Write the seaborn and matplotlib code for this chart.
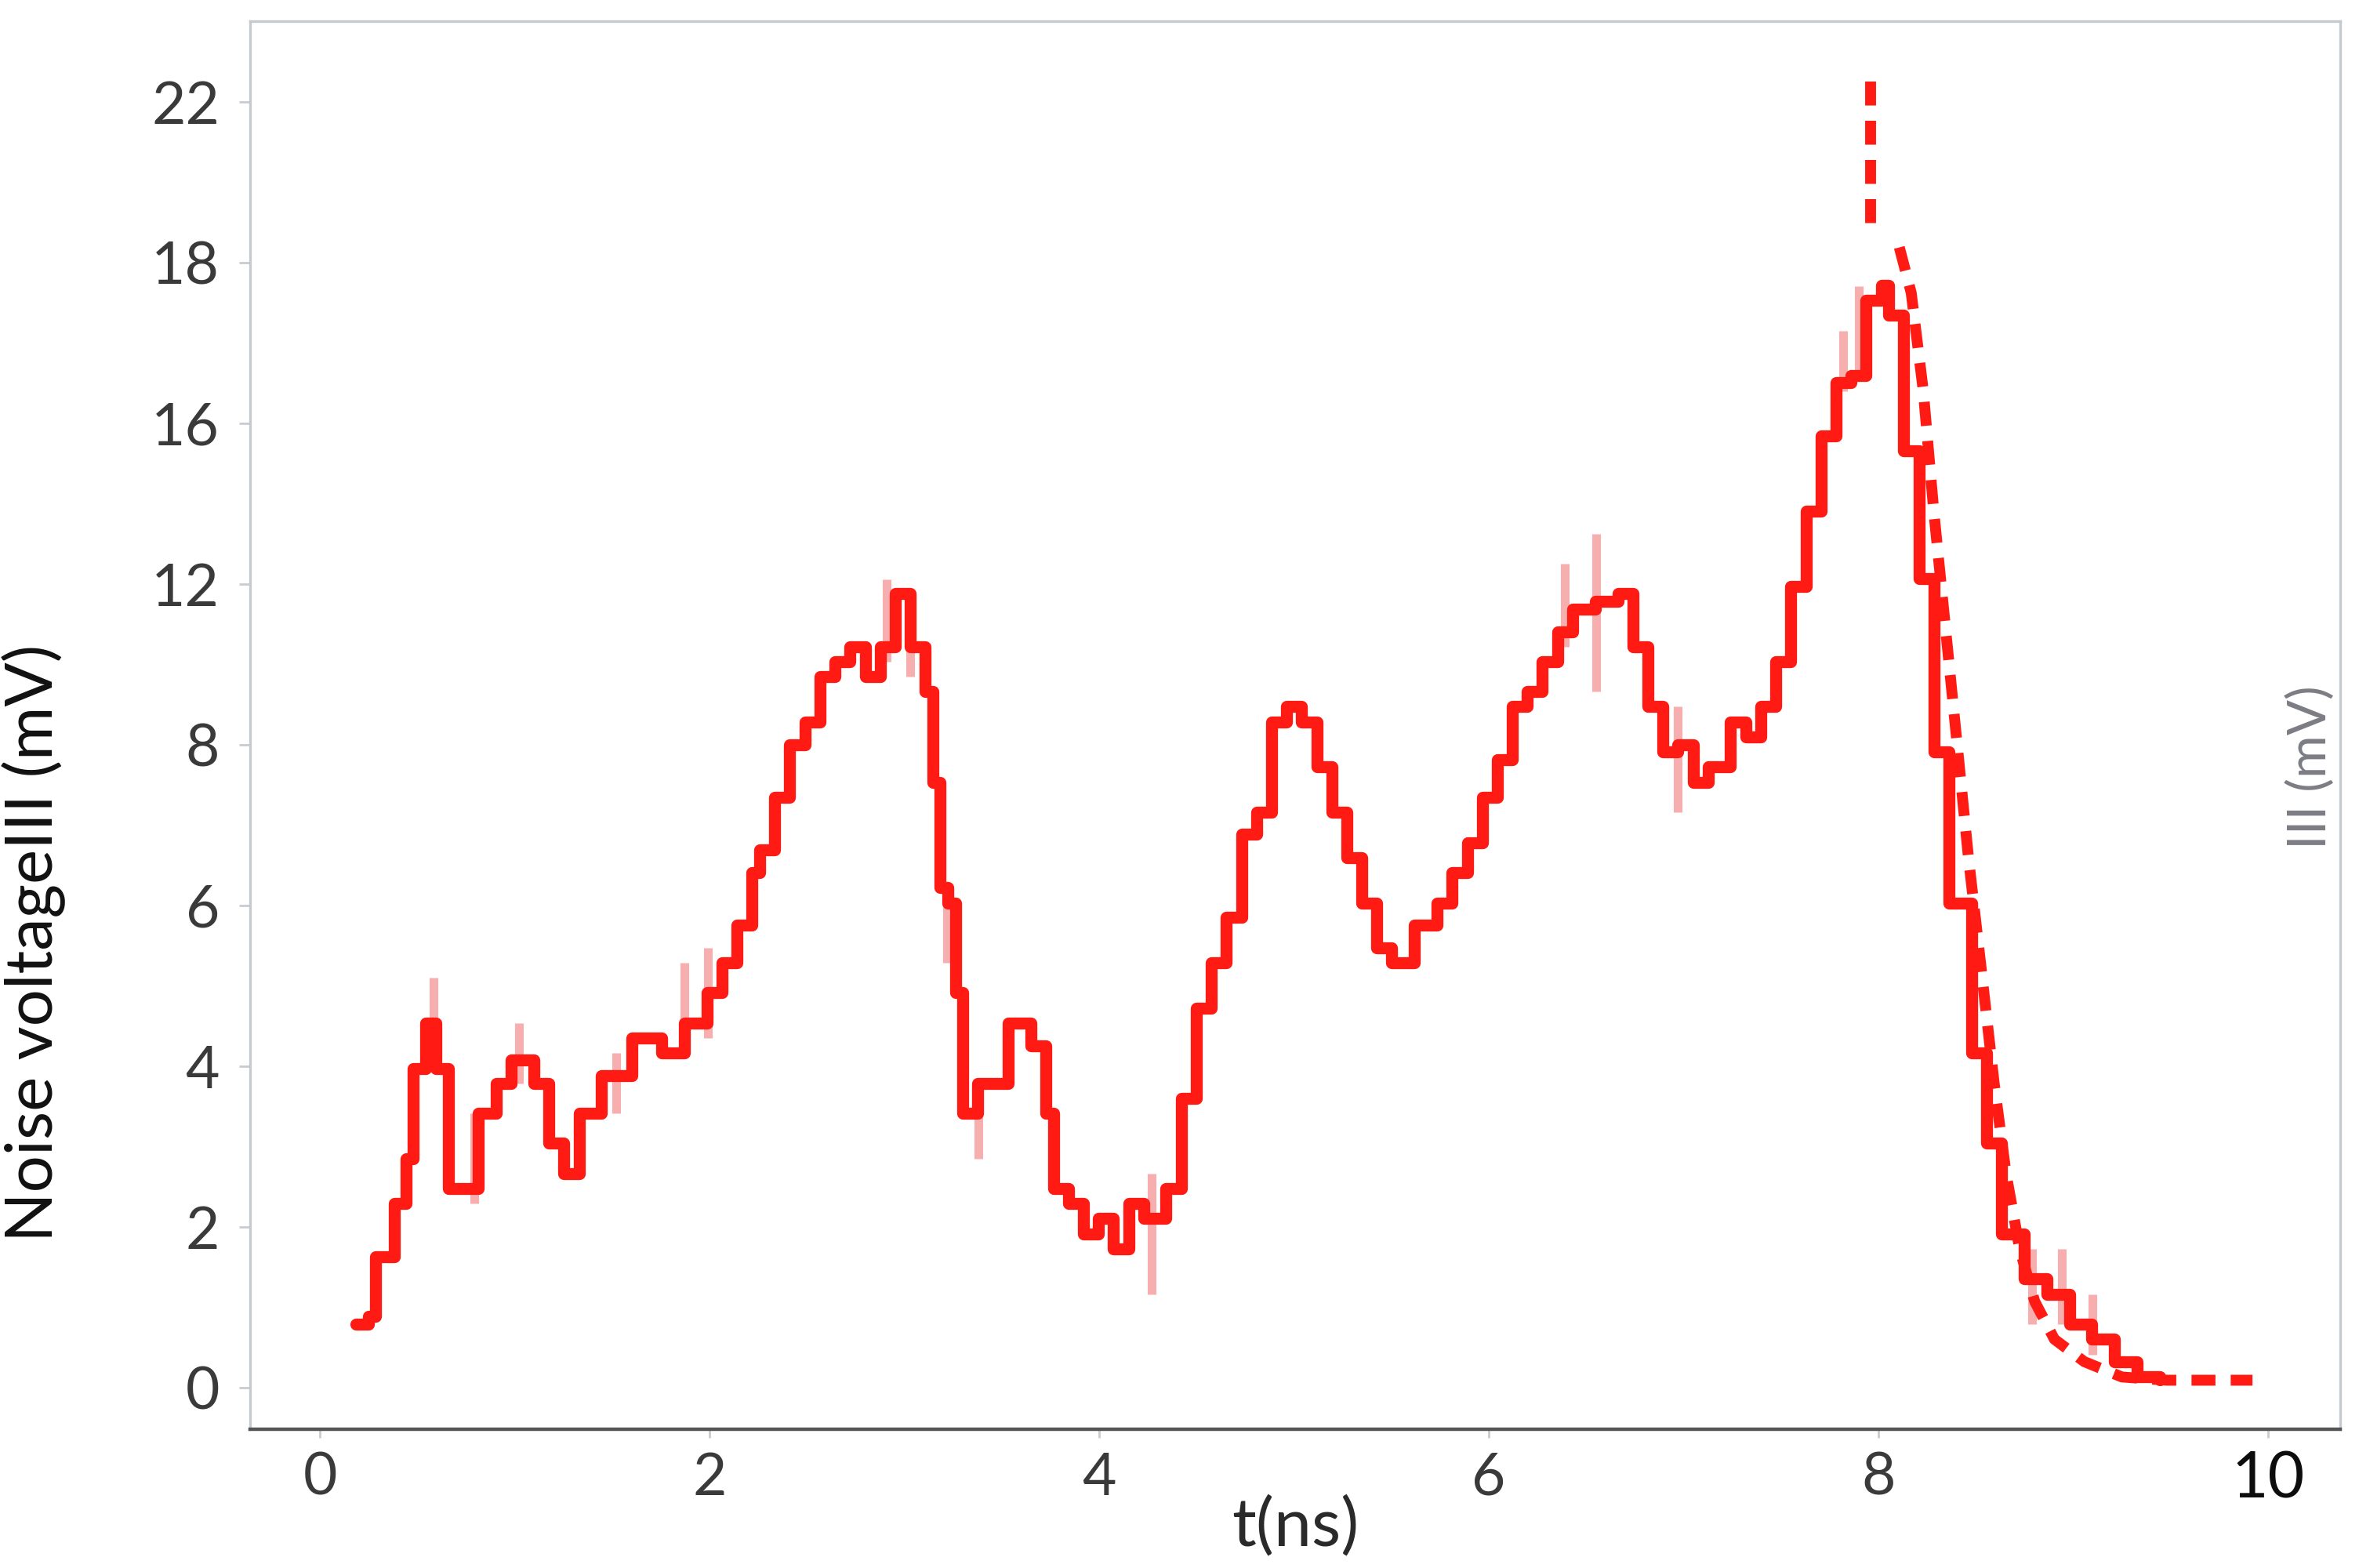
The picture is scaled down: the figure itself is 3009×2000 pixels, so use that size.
import numpy as np
import pandas as pd
import matplotlib
matplotlib.use("Agg")
import matplotlib.pyplot as plt
import seaborn as sns

# main noisy trace, t in ns, v in mV
t_main = [0.185, 0.247, 0.286, 0.379, 0.44, 0.479, 0.541, 0.595, 0.657, 0.75,
          0.811, 0.904, 0.981, 1.097, 1.175, 1.252, 1.329, 1.445, 1.6, 1.754,
          1.87, 1.986, 2.063, 2.141, 2.218, 2.257, 2.334, 2.411, 2.488, 2.566,
          2.643, 2.72, 2.798, 2.875, 2.952, 3.029, 3.107, 3.145, 3.184, 3.223,
          3.261, 3.3, 3.377, 3.454, 3.532, 3.648, 3.725, 3.764, 3.841, 3.918,
          3.995, 4.073, 4.15, 4.227, 4.343, 4.42, 4.498, 4.575, 4.652, 4.73,
          4.807, 4.884, 4.961, 5.039, 5.116, 5.193, 5.271, 5.348, 5.425, 5.502,
          5.618, 5.734, 5.811, 5.889, 5.966, 6.043, 6.121, 6.198, 6.275, 6.352,
          6.43, 6.546, 6.662, 6.739, 6.816, 6.893, 6.971, 7.048, 7.125, 7.241,
          7.318, 7.396, 7.473, 7.55, 7.628, 7.705, 7.782, 7.859, 7.937, 8.014,
          8.053, 8.13, 8.207, 8.284, 8.362, 8.478, 8.555, 8.632, 8.748, 8.864,
          8.98, 9.096, 9.212, 9.328, 9.444]
v_main = [0.79, 0.88, 1.63, 2.29, 2.85, 3.97, 4.53, 3.97, 2.47, 2.47,
          3.41, 3.78, 4.07, 3.78, 3.04, 2.66, 3.41, 3.88, 4.35, 4.16,
          4.53, 4.91, 5.28, 5.75, 6.41, 6.69, 7.34, 8.0, 8.56, 9.69,
          10.06, 10.44, 9.69, 10.44, 11.75, 10.44, 9.31, 7.53, 6.22, 6.03,
          4.91, 3.41, 3.78, 3.78, 4.53, 4.25, 3.41, 2.47, 2.29, 1.91,
          2.10, 1.72, 2.29, 2.10, 2.47, 3.6, 4.72, 5.28, 5.85, 6.88,
          7.16, 8.56, 8.94, 8.56, 7.72, 7.16, 6.59, 6.03, 5.47, 5.28,
          5.75, 6.03, 6.41, 6.78, 7.34, 7.81, 8.94, 9.31, 10.06, 10.81,
          11.37, 11.56, 11.75, 10.44, 8.94, 7.91, 8.0, 7.53, 7.72, 8.56,
          8.19, 8.94, 10.06, 11.94, 13.81, 15.68, 16.5, 16.59, 17.53, 17.71,
          17.34, 15.31, 12.12, 7.91, 6.03, 4.16, 3.04, 1.91, 1.35, 1.16,
          0.79, 0.6, 0.32, 0.13, 0.09]

# dashed envelope after the peak
t_peak = [7.96, 7.96]
v_peak = [22.5, 18.6]
t_decay = [8.107, 8.168, 8.23, 8.284, 8.346, 8.4, 8.462, 8.524, 8.594, 8.655,
           8.725, 8.802, 8.903, 9.057, 9.25, 9.48, 9.92]
v_decay = [18.37, 17.62, 16.4, 13.8, 10.8, 8.19, 6.59, 5.28, 3.78, 2.66,
           1.72, 1.07, 0.6, 0.32, 0.13, 0.09, 0.09]

# faint spikes around the trace
t_spike = [0.58, 0.79, 1.02, 1.52, 1.87, 1.99, 2.91, 3.03, 3.22, 3.38,
           4.27, 6.39, 6.55, 6.97, 7.82, 7.9, 8.79, 8.94, 9.1]
v_spike_lo = [4.35, 2.29, 3.78, 3.41, 4.16, 4.35, 10.06, 9.69, 5.28, 2.85,
              1.16, 10.44, 9.31, 7.16, 16.4, 16.6, 0.79, 0.79, 0.41]
v_spike_hi = [5.1, 3.41, 4.53, 4.16, 5.28, 5.47, 12.1, 11.2, 6.22, 3.78,
              2.66, 12.5, 13.25, 8.94, 17.15, 17.7, 1.72, 1.72, 1.16]

x_ticks = [0, 2, 4, 6, 8, 10]
y_ticks = [0, 2, 4, 6, 8, 12, 16, 18, 22]

# the y axis spaces its labels evenly, so map mV to tick index
yk_mv = [-4, 0, 2, 4, 6, 8, 12, 16, 18, 22, 26]
yk_pos = [-2, 0, 1, 2, 3, 4, 5, 6, 7, 8, 9]


def fwd(v):
    return np.interp(v, yk_mv, yk_pos)


def inv(p):
    return np.interp(p, yk_pos, yk_mv)


sns.set_theme(style="white")
plt.rcParams["font.family"] = ["Lato", "DejaVu Sans"]

red = "#ff1a14"
fig, ax = plt.subplots(figsize=(15.045, 10), dpi=200)
fig.subplots_adjust(left=0.106, right=0.992, top=0.9865, bottom=0.0885)
ax.set_yscale("function", functions=(fwd, inv))

ax.vlines(t_spike, v_spike_lo, v_spike_hi, color="#f59a9a", lw=4, alpha=0.8, zorder=2)
main = pd.DataFrame({"t": t_main, "v": v_main})
sns.lineplot(data=main, x="t", y="v", ax=ax, color=red, lw=5.5,
             drawstyle="steps-post", estimator=None, sort=False, zorder=3)
sns.lineplot(x=t_peak, y=v_peak, ax=ax, color=red, lw=5, linestyle=(0, (2.2, 1.4)),
             estimator=None, sort=False, zorder=4)
sns.lineplot(x=t_decay, y=v_decay, ax=ax, color=red, lw=5, linestyle=(0, (2.2, 1.4)),
             estimator=None, sort=False, zorder=4)

ax.set_xlim(-0.36, 10.37)
ax.set_ylim(inv(-0.26), inv(8.5))
ax.set_xticks(x_ticks)
ax.set_xticklabels([str(x) for x in x_ticks])
ax.set_yticks(y_ticks)
ax.set_yticklabels([str(y) for y in y_ticks])
ax.yaxis.set_minor_locator(matplotlib.ticker.NullLocator())

ax.tick_params(axis="y", left=True, length=5, width=1, color="#c8ccd0",
               pad=9, labelsize=27, labelcolor="#3a3a3a")
ax.tick_params(axis="x", bottom=True, length=4, width=1, color="#c8ccd0",
               pad=6, labelsize=27, labelcolor="#3a3a3a")
ax.get_xticklabels()[-1].set_color("#0d0d0d")
ax.get_xticklabels()[-1].set_fontsize(29)

for side in ["left", "top", "right"]:
    ax.spines[side].set_color("#c5cad0")
    ax.spines[side].set_linewidth(1.2)
ax.spines["bottom"].set_color("#555555")
ax.spines["bottom"].set_linewidth(1.6)

ax.set_xlabel("t(ns)", fontsize=31, color="#2a2a2a", labelpad=-6)
ax.set_ylabel("Noise voltageIII (mV)", fontsize=30, color="#111111")
ax.yaxis.set_label_coords(-0.088, 0.345)
ax.text(0.986, 0.47, "III (mV)", transform=ax.transAxes, rotation=90,
        ha="center", va="center", fontsize=24, color="#7c7c84")

fig.savefig("out.png", dpi=200, facecolor="white")
